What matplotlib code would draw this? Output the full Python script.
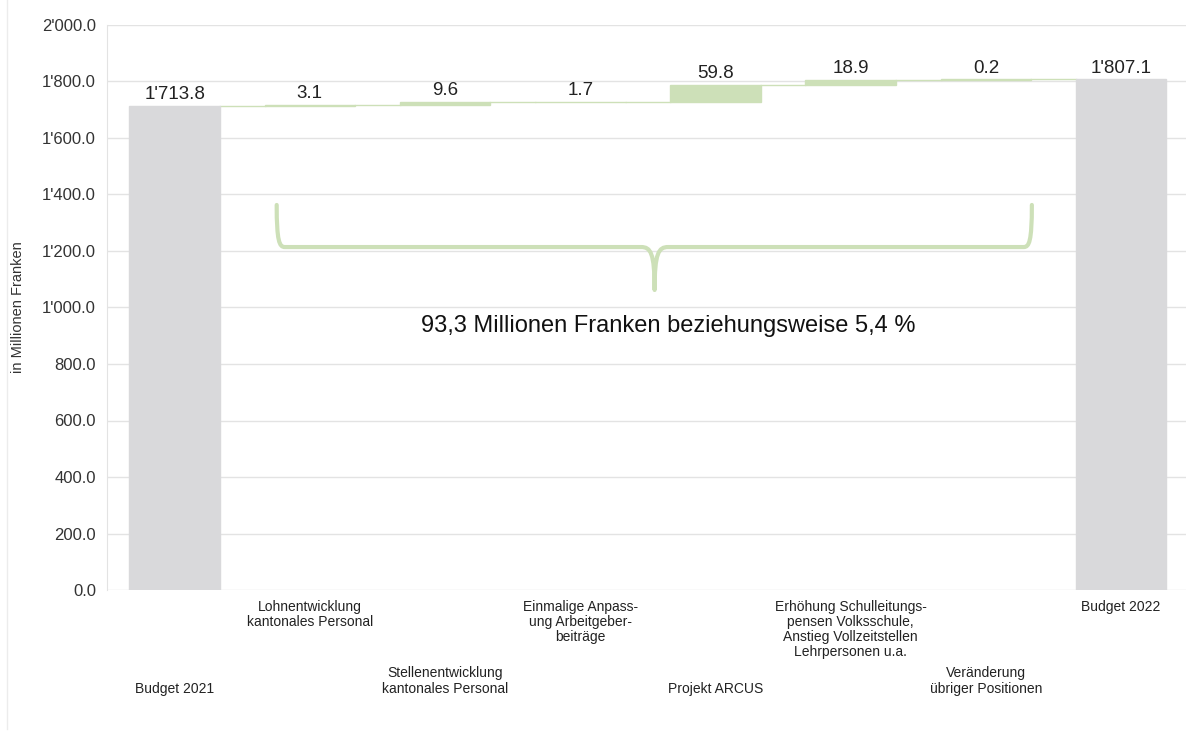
import matplotlib
matplotlib.use("Agg")
import matplotlib.pyplot as plt
from matplotlib.path import Path
from matplotlib.patches import PathPatch
from matplotlib.ticker import FuncFormatter, MultipleLocator
from matplotlib.lines import Line2D

plt.rcParams['font.family'] = ['Liberation Sans', 'DejaVu Sans']

# Budget steps (Mio. Franken)
categories = [
    "Budget 2021",
    "Lohnentwicklung\nkantonales Personal",
    "Stellenentwicklung\nkantonales Personal",
    "Einmalige Anpass-\nung Arbeitgeber-\nbeiträge",
    "Projekt ARCUS",
    "Erhöhung Schulleitungs-\npensen Volksschule,\nAnstieg Vollzeitstellen\nLehrpersonen u.a.",
    "Veränderung\nübriger Positionen",
    "Budget 2022",
]
start_total = 1713.8
changes = [3.1, 9.6, 1.7, 59.8, 18.9, 0.2]
end_total = 1807.1
value_labels = ["1'713.8", "3.1", "9.6", "1.7", "59.8", "18.9", "0.2", "1'807.1"]
note = "93,3 Millionen Franken beziehungsweise 5,4 %"

GREY = "#d9d9db"
GREEN = "#cde0b8"
GRID = "#e3e3e3"

fig = plt.figure(figsize=(11.86, 7.36), dpi=100)
ax = fig.add_axes([107 / 1186, 1 - 590 / 736, 1 - 107 / 1186, (590 - 25) / 736])

width = 0.67
bottoms = [0]
heights = [start_total]
running = start_total
for c in changes:
    bottoms.append(running)
    heights.append(c)
    running += c
bottoms.append(0)
heights.append(end_total)
colors = [GREY] + [GREEN] * len(changes) + [GREY]

x = list(range(len(categories)))
# thin outline keeps the very small steps visible
ax.bar(x, heights, bottom=bottoms, width=width, color=colors,
       edgecolor=colors, linewidth=1, zorder=3)

# connector lines between bars
tops = [b + h for b, h in zip(bottoms, heights)]
for i in range(len(x) - 1):
    level = tops[i]
    ax.plot([i + width / 2, i + 1 - width / 2], [level, level],
            color=GREEN, lw=1.0, zorder=2)

for i, lab in enumerate(value_labels):
    ax.annotate(lab, xy=(i, tops[i]), xytext=(0, 2), textcoords="offset points",
                ha="center", va="bottom", fontsize=13.5, color="#222222")

# category labels, staggered on two rows
for i, lab in enumerate(categories):
    if i % 2 == 1 or i == len(categories) - 1:
        ax.annotate(lab, xy=(i, 0), xycoords=("data", "axes fraction"),
                    xytext=(0, -7), textcoords="offset points",
                    ha="center", va="top", fontsize=10, color="#222222",
                    linespacing=1.1, multialignment="center")
    else:
        ax.annotate(lab, xy=(i, 0), xycoords=("data", "axes fraction"),
                    xytext=(0, -76), textcoords="offset points",
                    ha="center", va="bottom", fontsize=10, color="#222222",
                    linespacing=1.1, multialignment="center")

# curly brace over the change bars
xl, xr, xm = 0.755, 6.34, 3.55
y_top, y_mid, y_tip = 1363, 1214, 1062
dx = 0.06
verts = [
    (xl, y_top), (xl, y_mid + 20), (xl + 0.02, y_mid), (xl + dx, y_mid),
    (xm - 0.1, y_mid),
    (xm - 0.03, y_mid), (xm, y_mid - 20), (xm, y_tip),
    (xm, y_mid - 20), (xm + 0.03, y_mid), (xm + 0.1, y_mid),
    (xr - dx, y_mid),
    (xr - 0.02, y_mid), (xr, y_mid + 20), (xr, y_top),
]
codes = [
    Path.MOVETO, Path.CURVE4, Path.CURVE4, Path.CURVE4,
    Path.LINETO,
    Path.CURVE4, Path.CURVE4, Path.CURVE4,
    Path.CURVE4, Path.CURVE4, Path.CURVE4,
    Path.LINETO,
    Path.CURVE4, Path.CURVE4, Path.CURVE4,
]
ax.add_patch(PathPatch(Path(verts, codes), fill=False, edgecolor=GREEN,
                       lw=3, capstyle="round", joinstyle="round", zorder=4))
ax.text(3.65, 935, note, ha="center", va="center", fontsize=17, color="#111111")

ax.set_xlim(-0.5, 7.48)
ax.set_ylim(0, 2000)
ax.yaxis.set_major_locator(MultipleLocator(200))
ax.yaxis.set_major_formatter(FuncFormatter(lambda v, p: f"{v:,.1f}".replace(",", "'")))
ax.tick_params(axis="y", length=0, pad=8, labelsize=12, labelcolor="#333333")
ax.set_xticks([])
ax.grid(axis="y", color=GRID, lw=1, zorder=0)
for side in ["top", "right", "bottom"]:
    ax.spines[side].set_visible(False)
ax.spines["left"].set_color(GRID)

fig.text(18 / 1186, 1 - 307 / 736, "in Millionen Franken", rotation=90,
         ha="center", va="center", fontsize=10.5, color="#333333")
fig.add_artist(Line2D([7 / 1186, 7 / 1186], [0.01, 1.0], color="#ececec", lw=1))

fig.savefig("out.png", dpi=100)
